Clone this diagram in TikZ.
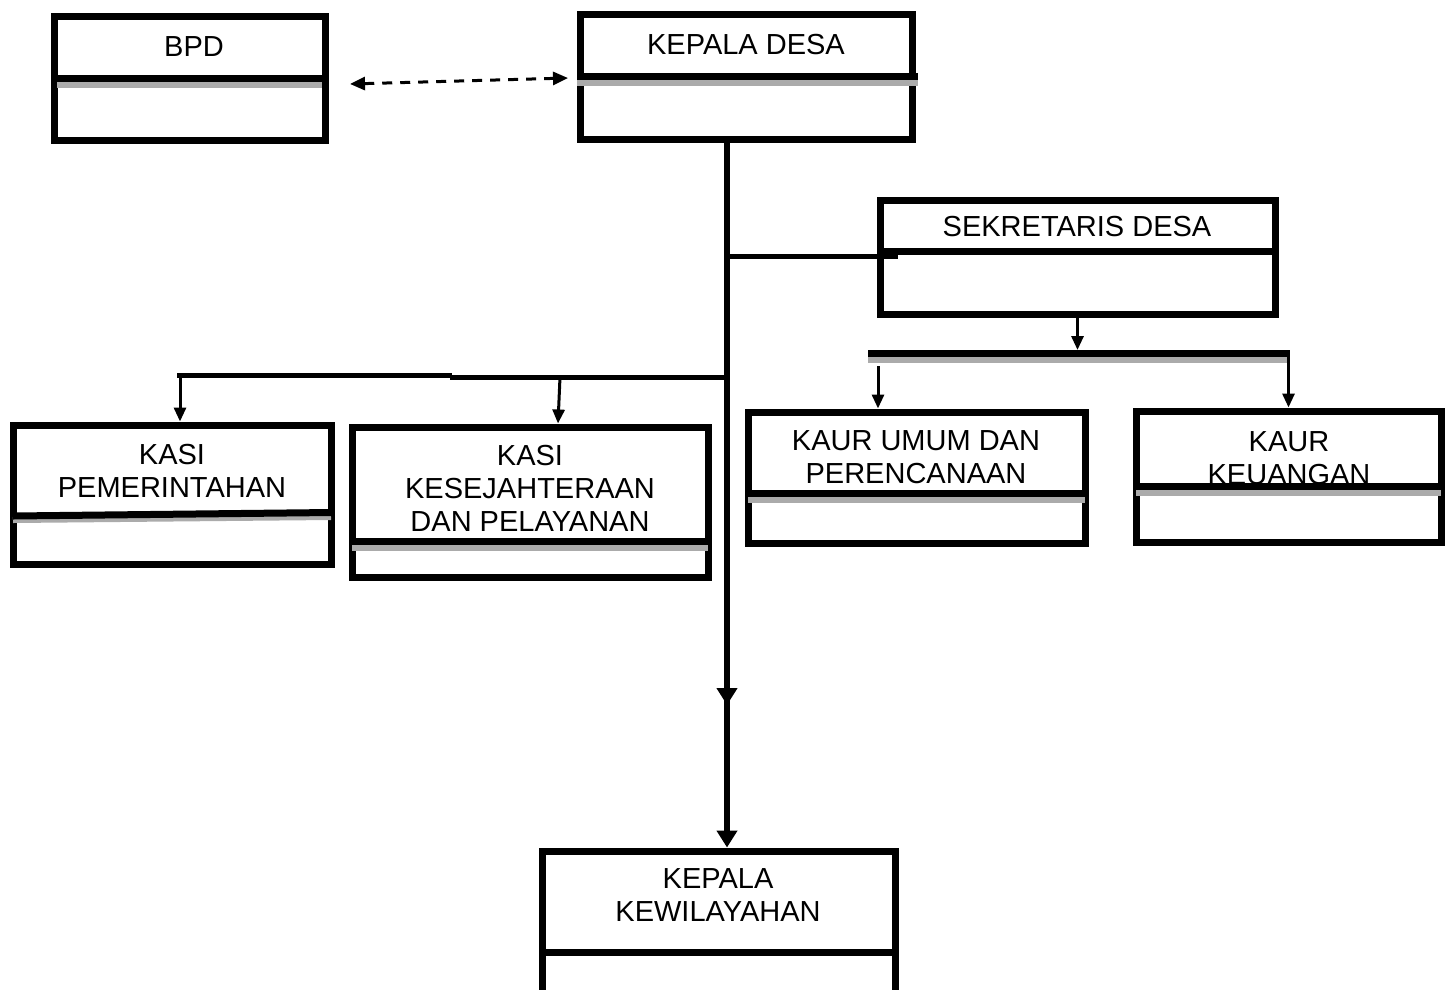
\documentclass[tikz,border=0pt]{standalone}
\usepackage{fontspec}
\setmainfont{Liberation Sans}
\usetikzlibrary{arrows.meta}
\begin{document}
\tikzset{
  orgbox/.style={draw=black, line width=7pt, inner sep=0pt},
  boxtext/.style={font=\fontsize{29pt}{33pt}\selectfont, align=center, inner sep=0pt},
  divline/.style={line width=7pt, black},
  divshade/.style={line width=6pt, black!33},
  barline/.style={line width=5pt, black},
  thinarrow/.style={line width=3pt, -{Triangle[length=14pt,width=12pt]}},
  bigarrow/.style={line width=6pt, -{Triangle[length=17pt,width=20pt]}},
  dasharrow/.style={line width=3pt, dash pattern=on 10pt off 8pt,
    {Triangle[length=15pt,width=13pt]}-{Triangle[length=15pt,width=13pt]}}
}
\begin{tikzpicture}[x=1pt,y=-1pt]
\useasboundingbox (0,0) rectangle (1453,989);
% boxes
\node[orgbox, minimum width=271pt, minimum height=124pt] (bpd) at (189.5,78) {};
\node[orgbox, minimum width=332pt, minimum height=125pt] (kd) at (746,76.5) {};
\node[orgbox, minimum width=395pt, minimum height=114pt] (sd) at (1077.5,257) {};
\node[orgbox, minimum width=318pt, minimum height=139pt] (kp) at (172,494.5) {};
\node[orgbox, minimum width=356pt, minimum height=150pt] (kk) at (530,502) {};
\node[orgbox, minimum width=337pt, minimum height=131pt] (ku) at (916.5,477.5) {};
\node[orgbox, minimum width=305pt, minimum height=131pt] (ke) at (1288.5,476.5) {};
\node[orgbox, minimum width=353pt, minimum height=154pt] (kw) at (718.5,928) {};
% texts
\node[boxtext] (tbpd) at (194,47) {BPD};
\node[boxtext] (tkd) at (746,45) {KEPALA DESA};
\node[boxtext] (tsd) at (1077,227) {SEKRETARIS DESA};
\node[boxtext] (tkp) at (172,470.5) {KASI\\PEMERINTAHAN};
\node[boxtext] (tkk) at (530,488) {KASI\\KESEJAHTERAAN\\DAN PELAYANAN};
\node[boxtext] (tku) at (916,457.5) {KAUR UMUM DAN\\PERENCANAAN};
\node[boxtext] (tke) at (1289,458) {KAUR\\KEUANGAN};
\node[boxtext] (tkw) at (718,895.5) {KEPALA\\KEWILAYAHAN};
% dividers
\draw[divshade] (57,85) -- (322,85);
\draw[divline] (54,78.5) -- (325,78.5);
\draw[divshade] (577,83) -- (918,83);
\draw[divline] (577,76.5) -- (918,76.5);
\draw[divline] (880,251.5) -- (1275,251.5);
\draw[divshade] (13,520) -- (331,517);
\draw[divline] (13,516) -- (331,512.5);
\draw[divshade] (352,548) -- (708,548);
\draw[divline] (352,541.5) -- (708,541.5);
\draw[divshade] (748,500) -- (1085,500);
\draw[divline] (748,493) -- (1085,493);
\draw[divshade] (1136,493) -- (1441,493);
\draw[divline] (1136,486.5) -- (1441,486.5);
\draw[divline] (542,952) -- (895,952);
% connectors
\coordinate (dl) at (350,84);
\coordinate (dr) at (568,78);
\draw[dasharrow] (dl) -- (dr);
\coordinate (tTop) at (727,140);
\coordinate (tMid) at (727,705);
\draw[bigarrow] (tTop) -- (tMid);
\draw[bigarrow] (tTop) -- (tMid |- kw.north);
\coordinate (jSD) at (727,256);
\coordinate (sdIn) at (898,256);
\draw[barline] (jSD) -- (sdIn);
\coordinate (barM) at (1077.5,350);
\draw[thinarrow] (sd.south) -- (barM);
\coordinate (barL) at (868,353.5);
\coordinate (barR) at (1290,353.5);
\draw[divshade] (868,360) -- (1288,360);
\draw[line width=7pt] (barL) -- (barR);
\draw[thinarrow] (1288.5,353) -- (ke.north);
\draw[thinarrow] (878,366) -- (878,408.5);
\coordinate (jL) at (727,377);
\coordinate (jK) at (450,377);
\coordinate (jK2) at (452,375.5);
\coordinate (jP) at (177,375.5);
\draw[barline] (jL) -- (jK);
\draw[barline] (jK2) -- (jP);
\draw[thinarrow] (180,373) -- (180,421.5);
\draw[thinarrow] (560,377) -- (558,423.5);
\end{tikzpicture}
\end{document}
